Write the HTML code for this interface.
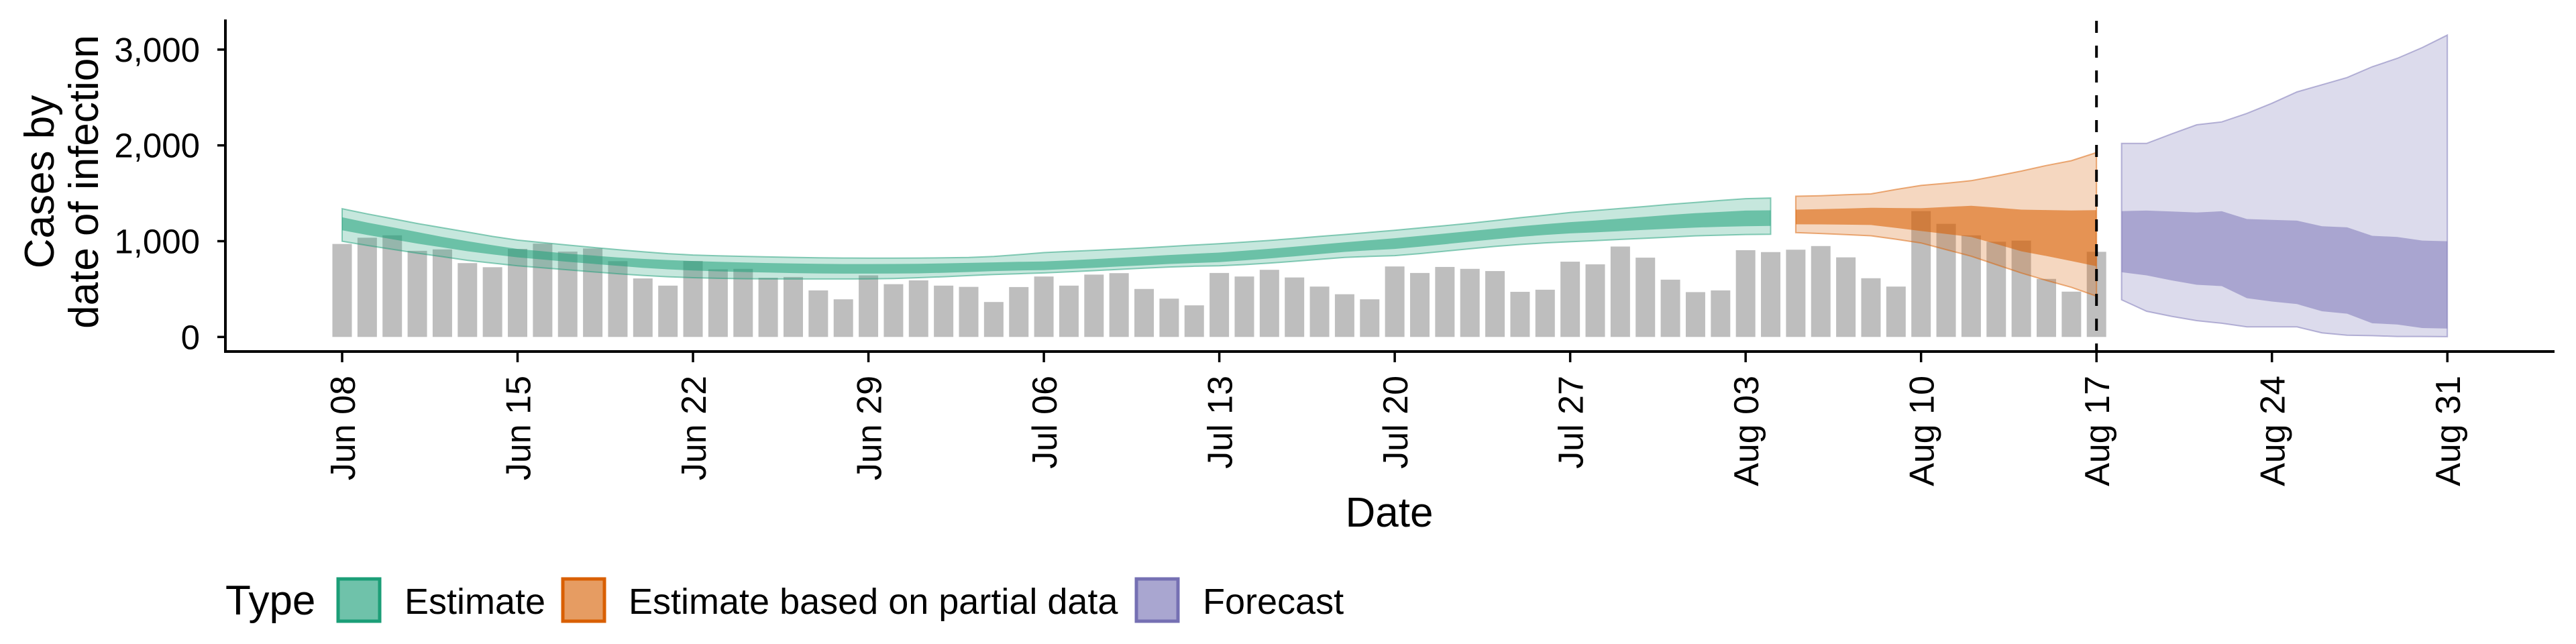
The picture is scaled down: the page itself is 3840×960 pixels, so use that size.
<!DOCTYPE html>
<html><head><meta charset="utf-8"><style>
html,body{margin:0;padding:0;background:#fff;}
svg{display:block;font-family:"Liberation Sans",Arial,sans-serif;}
</style></head><body>
<svg id="chart" width="3840" height="960" viewBox="0 0 3840 960" xmlns="http://www.w3.org/2000/svg">
<g id="bars"></g>
<g id="ribbons"></g>
<g id="axes"></g>
<text font-size="62" text-anchor="middle" transform="translate(80,271) rotate(-90)">Cases by</text>
<text font-size="62" text-anchor="middle" transform="translate(146,271) rotate(-90)">date of infection</text>
<text font-size="62" text-anchor="middle" x="2071" y="785">Date</text>
<g>
<text x="336" y="916" font-size="62">Type</text>
<rect x="504" y="863" width="62" height="63" fill="#6fc2aa" stroke="#1b9e77" stroke-width="5"/>
<text x="603" y="915" font-size="54">Estimate</text>
<rect x="839" y="863" width="62" height="63" fill="#e69c62" stroke="#d95f02" stroke-width="5"/>
<text x="937" y="915" font-size="54">Estimate based on partial data</text>
<rect x="1694" y="863" width="62" height="63" fill="#a9a6d0" stroke="#7570b3" stroke-width="5"/>
<text x="1793" y="915" font-size="54">Forecast</text>
</g>
</svg>
<script>
// reported cases, one per day starting Jun 08
const cases = [971,1036,1061,899,914,771,728,919,974,891,924,791,611,536,793,706,711,618,626,486,393,643,551,591,536,523,365,521,631,536,651,666,501,400,330,668,631,701,621,526,446,393,736,668,731,711,688,471,493,786,758,944,828,598,468,486,906,886,911,949,831,613,526,1314,1181,1061,994,1006,606,473,889];
// Estimate (days 0..57)
const estOuterHi = [1339,1285,1235,1185,1140,1095,1050,1011,985,960,935,912,890,870,856,848,842,836,831,827,824,823,823,824,826,830,840,860,881,893,905,917,930,945,960,974,990,1008,1028,1050,1070,1092,1114,1138,1162,1188,1215,1245,1272,1299,1320,1342,1362,1385,1405,1425,1444,1450];
const estInnerHi = [1249,1195,1145,1095,1045,1000,958,919,895,870,850,830,815,803,793,785,778,772,767,763,761,761,762,764,768,773,779,784,788,800,813,827,841,856,868,881,900,920,942,965,988,1010,1031,1055,1080,1105,1130,1155,1178,1199,1215,1235,1255,1275,1292,1305,1319,1322];
const estInnerLo = [1114,1065,1020,975,935,895,862,831,808,785,763,742,722,706,693,685,678,672,667,663,661,661,662,664,670,678,688,694,698,710,722,735,748,762,772,781,800,820,842,865,888,905,919,942,968,995,1020,1045,1065,1081,1092,1105,1118,1130,1142,1150,1156,1160];
const estOuterLo = [999,955,915,875,838,800,770,743,722,700,680,660,642,628,618,612,608,606,605,605,605,606,610,618,628,640,652,660,668,680,692,705,718,730,738,743,755,770,790,810,830,840,849,870,895,920,945,965,982,994,1005,1018,1030,1042,1055,1062,1069,1072];
// Estimate based on partial data (days 58..70)
const partOuterHi = [1469,1475,1485,1494,1540,1582,1605,1632,1680,1732,1790,1840,1925];
const partInnerHi = [1329,1335,1340,1349,1346,1344,1357,1369,1350,1329,1325,1321,1324];
const partInnerLo = [1176,1175,1172,1169,1138,1106,1075,1044,970,894,845,793,738];
const partOuterLo = [1089,1080,1068,1056,1020,981,912,843,755,668,590,518,426];
// Forecast (days 71..84)
const fcOuterHi = [2020,2020,2120,2215,2245,2333,2440,2558,2633,2708,2821,2908,3021,3151];
const fcInnerHi = [1314,1319,1310,1300,1312,1231,1222,1214,1156,1144,1056,1044,1006,999];
const fcInnerLo = [676,643,590,545,531,405,370,343,268,243,143,130,93,88];
const fcOuterLo = [388,268,215,170,143,105,105,105,43,18,13,5,5,3];
const yTicks = [0,1000,2000,3000];
const yTickLabels = ["0","1,000","2,000","3,000"];
const xTickDays = [0,7,14,21,28,35,42,49,56,63,70,77,84];
const xTickLabels = ["Jun 08","Jun 15","Jun 22","Jun 29","Jul 06","Jul 13","Jul 20","Jul 27","Aug 03","Aug 10","Aug 17","Aug 24","Aug 31"];
const forecastStartDay = 70;

const NS = "http://www.w3.org/2000/svg";
const X = d => 510 + d * 37.36;
const Y = v => 502.3 - v * 0.1428;
function mk(tag, attrs, parent){ const e=document.createElementNS(NS,tag); for(const k in attrs) e.setAttribute(k,attrs[k]); parent.appendChild(e); return e; }

const bars = document.getElementById('bars');
cases.forEach((v,i)=>{
  const r = mk('rect',{x:X(i)-14.5,y:Y(v),width:29,height:Y(0)-Y(v),fill:'#bebebe'},bars);
  
  
});

const rib = document.getElementById('ribbons');
function band(start, hi, lo, color, op, name, outline){
  let pts = hi.map((v,i)=>X(start+i).toFixed(1)+','+Y(v).toFixed(1));
  for(let i=lo.length-1;i>=0;i--) pts.push(X(start+i).toFixed(1)+','+Y(lo[i]).toFixed(1));
  const p = mk('polygon',{points:pts.join(' '),fill:color,'fill-opacity':op},rib);
  if(outline){ p.setAttribute('stroke',color); p.setAttribute('stroke-opacity','0.5'); p.setAttribute('stroke-width','2'); }
  
  
}
band(0, estOuterHi, estOuterLo, '#1b9e77', 0.25, 'estimate-outer-ribbon', true);
band(0, estInnerHi, estInnerLo, '#1b9e77', 0.53, 'estimate-inner-ribbon', false);
band(58, partOuterHi, partOuterLo, '#d95f02', 0.25, 'partial-outer-ribbon', true);
band(58, partInnerHi, partInnerLo, '#d95f02', 0.57, 'partial-inner-ribbon', false);
band(71, fcOuterHi, fcOuterLo, '#7570b3', 0.25, 'forecast-outer-ribbon', true);
band(71, fcInnerHi, fcInnerLo, '#7570b3', 0.5, 'forecast-inner-ribbon', false);

const ax = document.getElementById('axes');
const dl = mk('line',{x1:X(forecastStartDay),x2:X(forecastStartDay),y1:31,y2:524,stroke:'#000','stroke-width':4,'stroke-dasharray':'18 19'},ax);


const ya = mk('line',{x1:336,x2:336,y1:29,y2:526,stroke:'#000','stroke-width':4},ax);


const xa = mk('line',{x1:334,x2:3808,y1:524,y2:524,stroke:'#000','stroke-width':4},ax);


yTicks.forEach((v,i)=>{
  const t = mk('line',{x1:324,x2:336,y1:Y(v),y2:Y(v),stroke:'#000','stroke-width':3.5},ax);
  
  
  const l = mk('text',{x:298,y:Y(v)+18,'text-anchor':'end','font-size':51},ax);
  l.textContent = yTickLabels[i];
  
  
});
xTickDays.forEach((d,i)=>{
  const t = mk('line',{x1:X(d),x2:X(d),y1:524,y2:540,stroke:'#000','stroke-width':3.5},ax);
  
  
  const l = mk('text',{'text-anchor':'end','font-size':52,transform:'translate('+(X(d)+19).toFixed(1)+',560) rotate(-90)'},ax);
  l.textContent = xTickLabels[i];
  
  
});
</script>
</body></html>
